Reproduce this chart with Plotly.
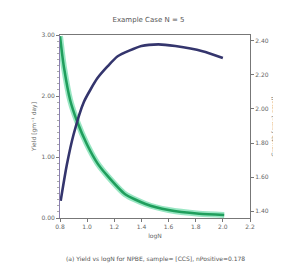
import plotly.graph_objects as go

# data
log_n_navy = [0.805, 0.85, 0.90, 0.975, 1.075, 1.15, 1.225, 1.40, 1.525, 1.65, 1.85, 2.0]
navy_vals = [1.46, 1.67, 1.85, 2.04, 2.18, 2.25, 2.31, 2.37, 2.38, 2.37, 2.34, 2.30]

log_n_green = [0.80, 0.815, 0.83, 0.875, 0.925, 1.0, 1.075, 1.15, 1.28, 1.43, 1.60, 1.825, 2.01]
green_vals = [2.98, 2.70, 2.46, 1.93, 1.59, 1.20, 0.90, 0.69, 0.39, 0.23, 0.13, 0.07, 0.05]

x_ticks = [0.8, 1.0, 1.2, 1.4, 1.6, 1.8, 2.0, 2.2]
left_ticks = [0, 1, 2, 3]
right_ticks = [1.4, 1.6, 1.8, 2.0, 2.2, 2.4]

title_text = "Example Case N = 5"
x_title = "logN"
left_title = "Yield [gm⁻¹ day]"
right_title = "Growth [gm⁻¹ gmol]"
caption = "(a) Yield vs logN for NPBE, sample= [CCS], nPositive=0.178"

fig = go.Figure()
fig.add_trace(go.Scatter(x=log_n_green, y=green_vals, mode="lines",
                         line=dict(color="rgba(110,220,170,0.7)", width=6, shape="spline", smoothing=0.6),
                         yaxis="y", showlegend=False))
fig.add_trace(go.Scatter(x=log_n_green, y=green_vals, mode="lines",
                         line=dict(color="#1f9e5c", width=2.5, shape="spline", smoothing=0.6),
                         yaxis="y", showlegend=False))
fig.add_trace(go.Scatter(x=log_n_navy, y=navy_vals, mode="lines",
                         line=dict(color="#34356d", width=2.6, shape="spline", smoothing=0.6),
                         yaxis="y2", showlegend=False))

tick_font = dict(family="DejaVu Sans", size=6, color="#666")
fig.update_layout(
    width=281, height=267,
    margin=dict(l=52, r=39, t=27, b=57),
    paper_bgcolor="white", plot_bgcolor="white",
    title=dict(text=title_text, x=0.5, xanchor="center", y=0.955, yanchor="middle",
               font=dict(family="DejaVu Sans", size=7, color="#555")),
    xaxis=dict(range=[0.8, 2.2], tickvals=x_ticks, ticktext=[f"{v:.1f}" for v in x_ticks],
               showgrid=False, zeroline=False, showline=True, linecolor="#777", linewidth=1,
               mirror=True, ticks="outside", ticklen=3, tickcolor="#777", tickfont=tick_font,
               title=dict(text=x_title, font=dict(family="DejaVu Sans", size=6, color="#666"), standoff=4)),
    yaxis=dict(range=[0, 3], tickvals=left_ticks, ticktext=[f"{v:.2f}" for v in left_ticks],
               showgrid=False, zeroline=False, showline=True, linecolor="#8a7fb0", linewidth=1,
               ticks="outside", ticklen=3, tickcolor="#777", tickfont=tick_font,
               minor=dict(ticks="outside", ticklen=2, dtick=0.1, tickcolor="#aaa"),
               title=dict(text=left_title, font=dict(family="DejaVu Sans", size=6, color="#666"), standoff=4)),
    yaxis2=dict(range=[1.359, 2.435], tickvals=right_ticks, ticktext=[f"{v:.2f}" for v in right_ticks],
                overlaying="y", side="right", showgrid=False, zeroline=False, showline=True,
                linecolor="#777", linewidth=1, ticks="outside", ticklen=3, tickcolor="#777",
                tickfont=tick_font,
                title=dict(text=right_title, font=dict(family="DejaVu Sans", size=6, color="#666"), standoff=4)),
    annotations=[dict(text=caption, xref="paper", yref="paper", x=0.5, y=-0.19,
                      xanchor="center", yanchor="top", showarrow=False,
                      font=dict(family="DejaVu Sans", size=6, color="#555"))],
)

fig.write_html("out.html")
